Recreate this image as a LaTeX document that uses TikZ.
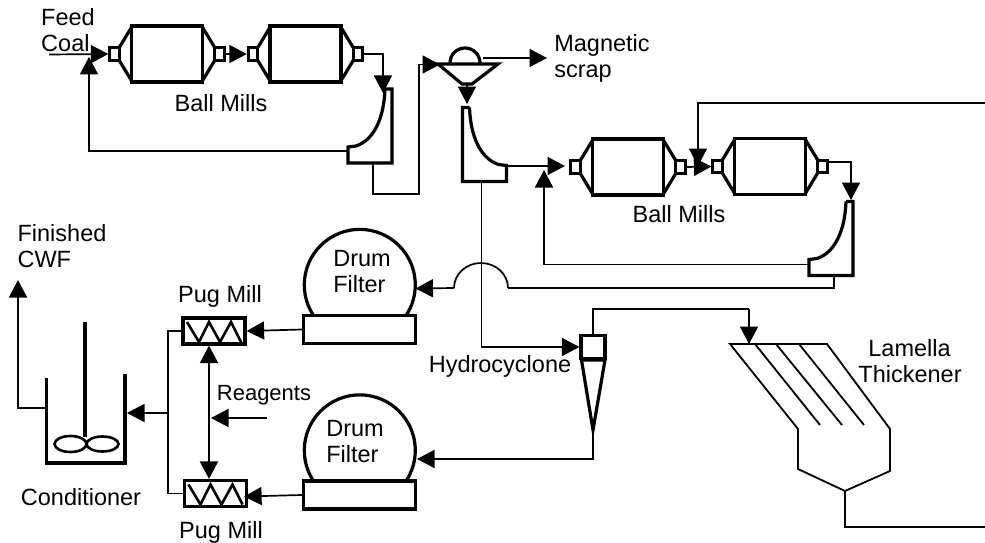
\documentclass[tikz,border=0pt]{standalone}
\usepackage{fontspec}
\setmainfont{Liberation Sans}
\usetikzlibrary{arrows.meta}
\begin{document}
\begin{tikzpicture}[x=1pt,y=-1pt,
  vessel/.style={line width=3.2pt,line join=miter},
  thinvessel/.style={line width=1.8pt,line join=miter},
  flow/.style={-{Triangle[length=17.5pt,width=18pt]},line width=1.7pt},
  pipe/.style={line width=1.7pt},
  lbl/.style={font=\fontsize{23.5}{26}\selectfont,inner sep=0pt,align=left},
  port/.style={rectangle,draw,line width=2.8pt,inner sep=0pt,minimum width=9.5pt,minimum height=12.5pt},
  eqbox/.style={rectangle,draw,line width=3.2pt,inner sep=0pt},
  ballmill/.pic={
    \node[eqbox,minimum width=71pt,minimum height=56pt] (-body) at (0,0) {};
    \node[port] (-in) at (-52.5,0) {};
    \node[port] (-out) at (52.5,0) {};
    \draw[vessel] (-35,-27.5)--(-48,-6) (-48,6)--(-35,27.5) (35,-27.5)--(48,-6) (48,6)--(35,27.5);
  },
  classifier/.pic={
    \draw[vessel] (15,-37)--(22,-37)--(22,37)--(-22,37)--(-22,21)--(-14,20) .. controls (4,14) and (14,-8) .. (15,-37);
    \coordinate (-under) at (3,37);
    \coordinate (-over) at (-22,25);
  },
  drumfilter/.pic={
    \node[eqbox,minimum width=112pt,minimum height=28pt] (-base) at (0,0) {};
    \draw[vessel] (-46,-14) arc[start angle=146.5,end angle=393.5,radius=55.5];
    \coordinate (-feed) at (56,-41);
  },
  pugmill/.pic={
    \node[eqbox,minimum width=62pt,minimum height=26pt] (-box) at (0,0) {};
    \draw[line width=2.6pt,line join=miter] (-27,-9)--(-15,11)--(-5,-9)--(6,11)--(17,-9)--(27,11);
  }]
\useasboundingbox (0,0) rectangle (985,543);

\pic (mill1) at (167,54) {ballmill};
\pic (mill2) at (305.5,54) {ballmill};
\pic (mill3) at (628,167) {ballmill};
\pic (mill4) at (770,166.5) {ballmill};
\pic (class1) at (370,126) {classifier};
\pic[xscale=-1] (class2) at (484.5,144.5) {classifier};
\pic (class3) at (831,238.5) {classifier};
\pic (drum1) at (359.5,329.5) {drumfilter};
\pic (drum2) at (359.5,495) {drumfilter};
\pic (pug1) at (214,331) {pugmill};
\pic (pug2) at (215.5,493.5) {pugmill};

\node[lbl] (feedlbl) at (68,30) {Feed\\Coal};
\node[lbl] (millslbl1) at (221,103) {Ball Mills};
\node[lbl] (millslbl2) at (679,214) {Ball Mills};
\node[lbl] (scraplbl) at (602,58) {Magnetic\\scrap};
\node[lbl] (drumlbl1) at (362,272) {Drum\\Filter};
\node[lbl] (drumlbl2) at (355,442) {Drum\\Filter};
\node[lbl] (finishlbl) at (62,246) {Finished\\CWF};
\node[lbl] (puglbl1) at (220,296) {Pug Mill};
\node[lbl] (puglbl2) at (221,532) {Pug Mill};
\node[lbl,font=\fontsize{22}{26}\selectfont] (reaglbl) at (264,395) {Reagents};
\node[lbl] (condlbl) at (81,497) {Conditioner};
\node[lbl] (hydrolbl) at (500,366) {Hydrocyclone};
\node[lbl] (lamellalbl) at (910,361) {\hspace*{10pt}Lamella\\Thickener};

\draw[vessel] (450,63) arc[start angle=180,end angle=360,radius=15];
\draw[vessel] (438,64)--(498,64)--(472,84)--(462,84)--cycle;
\coordinate (septop) at (483,58);
\coordinate (sepin) at (440,64.5);
\coordinate (sepout) at (467,84);

\node[eqbox,minimum width=24pt,minimum height=23pt] (cyclone) at (593,347) {};
\draw[vessel] (581.5,360)--(605,360)--(593,430)--cycle;
\coordinate (cycloneapex) at (593,430);

\draw[vessel] (46.5,378)--(46.5,463)--(125,463)--(125,374);
\draw[vessel] (85,322)--(85,437);
\draw[line width=2.6pt] (70.5,444) ellipse[x radius=16,y radius=8];
\draw[line width=2.6pt] (102.5,444) ellipse[x radius=16,y radius=7.5];
\coordinate (condout) at (46.5,408);
\coordinate (condin) at (127,413);

\coordinate (thickfeed) at (749,344);
\coordinate (thickout) at (845,491);
\draw[thinvessel] (730,344)--(827,344)--(890,429)--(890,471)--(845,491)--(798,469)--(798,429)--cycle;
\draw[thinvessel] (755,344)--(820,425) (776,344)--(842,425) (799,344)--(864,425);

\coordinate (feedstart) at (49,54.5);
\coordinate (finished) at (18,280);
\coordinate (class1in) at (383,93);
\coordinate (class3in) at (851,200);
\coordinate (scrapend) at (547,58);
\coordinate (mill3feed) at (565,166);
\coordinate (mill3back) at (544,170);
\coordinate (mill1back) at (89,57);
\coordinate (recyclein) at (985,103);
\coordinate (mill4feed) at (698,166);
\coordinate (jumpright) at (508,288);
\coordinate (jumpleft) at (454,288);
\coordinate (reagstart) at (267,418);
\coordinate (reagend) at (211,418);
\coordinate (thickexit) at (985,527);
\coordinate (pugjoin) at (168,413);

\draw[flow] (feedstart) -- (mill1-in.west);
\draw[flow] (class1-over) -| (mill1back);
\draw[flow] (mill1-out.east) -- (mill2-in.west);
\draw[flow] (mill2-out.east) -| (class1in);
\draw[flow] (class1-under) |- (419,194) |- (sepin);
\draw[flow] (septop) -- (scrapend);
\draw[flow] (sepout) -- (467,104);
\draw[flow] ([yshift=3.5pt]class2-over) -- (mill3feed);
\draw[flow] (mill3-out.east) -- (mill4-in.west);
\draw[flow] (recyclein) -| (mill4feed);
\draw[flow] ([yshift=4.5pt]mill4-out.east) -| (class3in);
\draw[flow] ([yshift=-1pt]class3-over) -| (mill3back);
\draw[pipe] (class3-under) |- (jumpright);
\draw[pipe] (jumpright) arc[start angle=0,end angle=-180,x radius=27,y radius=25];
\draw[flow] (jumpleft) -- (drum1-feed);
\draw[flow] (class2-under) |- (cyclone.west);
\draw[flow] (cycloneapex) |- (417,459);
\draw[pipe] (cyclone.north) |- (749,309);
\draw[flow] (749,309) -- (thickfeed);
\draw[pipe] (thickout) |- (thickexit);
\draw[flow] (drum1-base.west) -- (pug1-box.east);
\draw[flow] (drum2-base.west) -- ([xshift=-4pt,yshift=-3pt]pug2-box.east);
\draw[{Triangle[length=17.5pt,width=18pt]}-{Triangle[length=17.5pt,width=18pt]},line width=2.2pt] ([xshift=-5pt]pug1-box.south) -- ([xshift=-6.5pt]pug2-box.north);
\draw[flow] (reagstart) -- (reagend);
\draw[pipe] (pug1-box.west) -| (pugjoin) |- (pug2-box.west);
\draw[flow] (pugjoin) -- (condin);
\draw[flow] (condout) -| (finished);
\end{tikzpicture}
\end{document}
